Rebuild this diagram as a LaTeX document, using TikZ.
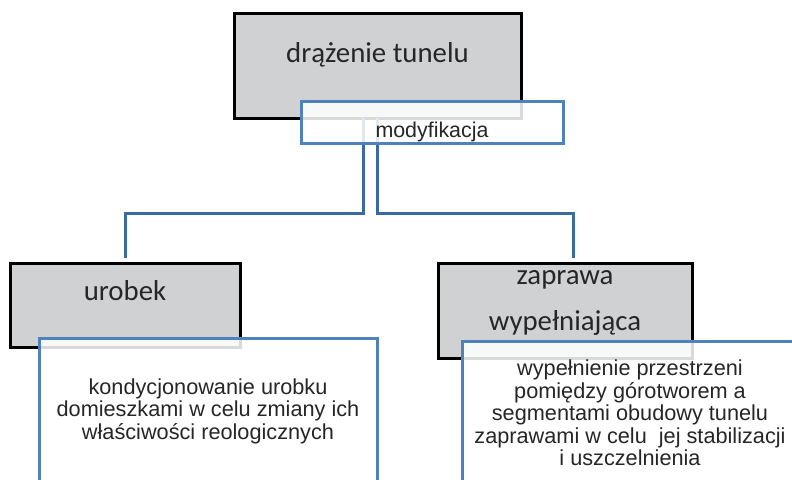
\documentclass[tikz,border=0pt]{standalone}
\usepackage{fontspec}
\setmainfont{Liberation Sans}
\newfontfamily\calibri{Carlito}
\usetikzlibrary{positioning}
\definecolor{boxgray}{RGB}{208,209,211}
\definecolor{lineblue}{RGB}{79,129,189}
\definecolor{connblue}{RGB}{58,106,160}

\begin{document}
\begin{tikzpicture}[x=1pt,y=-1pt,
  hbox/.style={draw=black,line width=3pt,fill=boxgray,inner sep=0pt,outer sep=0pt},
  dbox/.style={draw=lineblue,line width=3pt,fill=white,fill opacity=0.85,
               text opacity=1,inner sep=0pt,outer sep=0pt,align=center,
               text=black!85,font=\fontsize{21.7}{22.5}\selectfont},
  htxt/.style={font=\calibri\fontsize{28.8}{46}\selectfont,align=center,text=black!85},
  conn/.style={draw=connblue,line width=3pt,shorten >=5pt}]
\useasboundingbox (0,0) rectangle (792,479);
\clip (0,0) rectangle (792,479);
% gray head boxes
\node[hbox,minimum width=287pt,minimum height=105pt,
      label={[htxt,yshift=10.5pt]center:drążenie tunelu}] (tunel) at (377.5,65.5) {};
\node[hbox,minimum width=230pt,minimum height=84pt,
      label={[htxt,yshift=14pt]center:urobek}] (urobek) at (125,305) {};
\node[hbox,minimum width=254pt,minimum height=95pt,
      label={[htxt,yshift=8pt]center:{zaprawa\\wypełniająca}}] (zaprawa) at (565,310.5) {};
% connectors
\draw[conn] ([xshift=-14.5pt]tunel.south) |- ([yshift=50pt]urobek.north) -- (urobek.north);
\draw[conn] (tunel.south) |- ([xshift=8pt,yshift=50pt]zaprawa.north) -- ([xshift=8pt]zaprawa.north);
% blue text boxes
\node[dbox,anchor=north west,minimum width=262pt,minimum height=42pt,
      label={[text=black!85,font=\fontsize{21.4}{24}\selectfont,yshift=-9.6pt]center:modyfikacja}]
      (modyf) at ([xshift=67pt,yshift=17pt]tunel.south west) {};
\node[dbox,anchor=north west,minimum width=338pt,minimum height=146pt]
      (kondyc) at ([xshift=29pt,yshift=9pt]urobek.south west)
      {kondycjonowanie urobku\\domieszkami w celu zmiany ich\\właściwości reologicznych};
\node[dbox,anchor=north west,minimum width=336pt,minimum height=144pt]
      (wypeln) at ([xshift=24pt,yshift=17pt]zaprawa.south west)
      {wypełnienie przestrzeni\\pomiędzy górotworem a\\segmentami obudowy tunelu\\zaprawami w celu~ jej stabilizacji\\i uszczelnienia};
\end{tikzpicture}
\end{document}
